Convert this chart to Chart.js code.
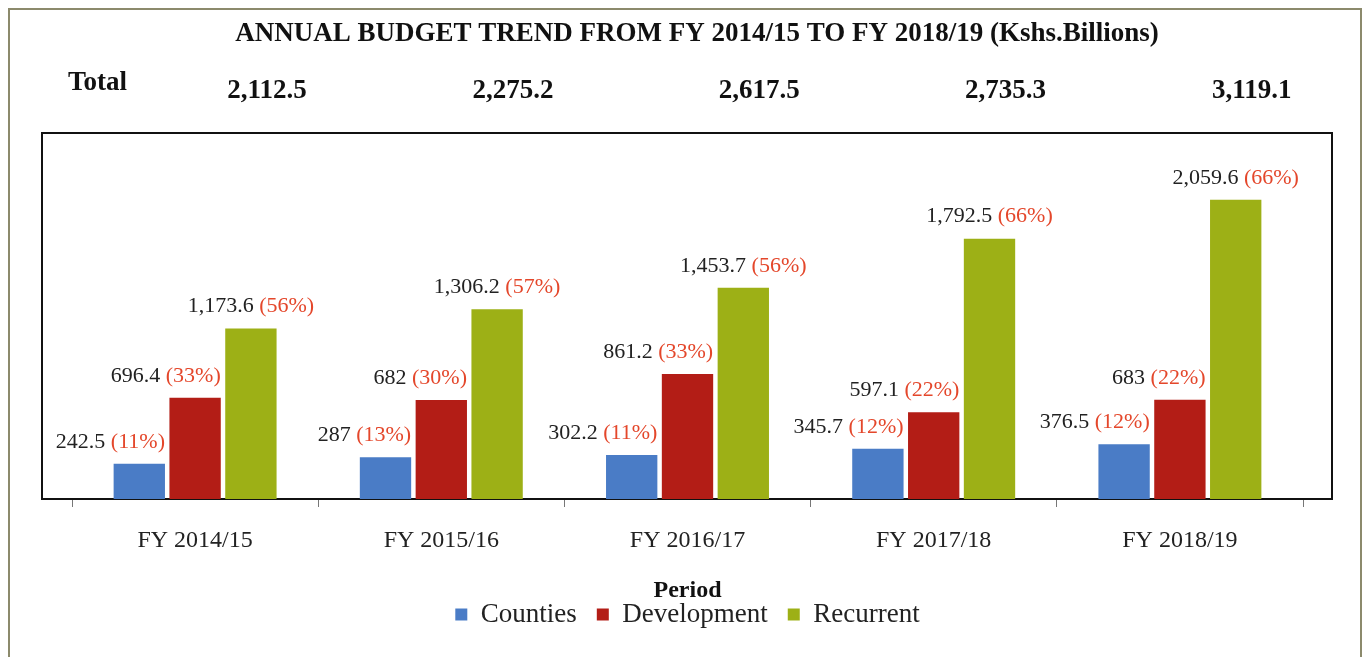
<!DOCTYPE html>
<html>
<head>
<meta charset="utf-8">
<script src="https://cdn.jsdelivr.net/npm/chart.js@4/dist/chart.umd.min.js"></script>
<style>
  html, body { margin: 0; padding: 0; background: #fff; }
  #wrap { width: 1368px; height: 657px; }
</style>
</head>
<body>
<div id="wrap"><canvas id="myChart" width="1368" height="657"></canvas></div>
<script>
const periods = ['FY 2014/15', 'FY 2015/16', 'FY 2016/17', 'FY 2017/18', 'FY 2018/19'];
const counties = [242.5, 287, 302.2, 345.7, 376.5];
const development = [696.4, 682, 861.2, 597.1, 683];
const recurrent = [1173.6, 1306.2, 1453.7, 1792.5, 2059.6];
const countiesPct = [11, 13, 11, 12, 12];
const developmentPct = [33, 30, 33, 22, 22];
const recurrentPct = [56, 57, 56, 66, 66];
const totals = ['2,112.5', '2,275.2', '2,617.5', '2,735.3', '3,119.1'];

const SERIF = '"Liberation Serif", "DejaVu Serif", serif';

// frame, title, totals and bar labels
const decor = {
    id: 'decor',
    beforeDatasetsDraw(chart) {
        const c = chart.ctx, a = chart.chartArea;
        c.save();
        // outer page border
        c.strokeStyle = '#8c8a6c';
        c.lineWidth = 2;
        c.strokeRect(9, 9, 1352, 660);
        // plot frame
        c.strokeStyle = '#111';
        c.lineWidth = 2;
        c.strokeRect(a.left - 30, a.top, a.right - a.left + 59, a.bottom - a.top);
        c.restore();
    },
    afterDatasetsDraw(chart) {
        const c = chart.ctx;
        c.save();
        c.fillStyle = '#111';
        c.font = 'bold 27px ' + SERIF;
        c.textAlign = 'center';
        c.textBaseline = 'middle';
        c.fillText('ANNUAL BUDGET TREND FROM FY 2014/15 TO FY 2018/19 (Kshs.Billions)', 697, 34);
        c.textAlign = 'left';
        c.fillText('Total', 68, 83);
        c.textAlign = 'center';
        const greens = chart.getDatasetMeta(2).data;
        totals.forEach((t, i) => c.fillText(t, greens[i].x + 16, 91));

        const pcts = [countiesPct, developmentPct, recurrentPct];
        c.font = '22px ' + SERIF;
        c.textAlign = 'left';
        chart.data.datasets.forEach((ds, di) => {
            chart.getDatasetMeta(di).data.forEach((bar, i) => {
                const num = ds.data[i].toLocaleString('en-US') + ' ';
                const pct = '(' + pcts[di][i] + '%)';
                const w1 = c.measureText(num).width, w2 = c.measureText(pct).width;
                const half = bar.width / 2;
                let x0 = di === 2 ? bar.x - (w1 + w2) / 2 : bar.x + half - (w1 + w2);
                const y = bar.y - 22;
                c.fillStyle = '#222';
                c.fillText(num, x0, y);
                c.fillStyle = '#e4472b';
                c.fillText(pct, x0 + w1, y);
            });
        });
        c.restore();
    }
};

const ctx = document.getElementById('myChart').getContext('2d');
new Chart(ctx, {
    type: 'bar',
    data: {
        labels: periods,
        datasets: [
            { label: 'Counties', data: counties, backgroundColor: '#4a7cc6' },
            { label: 'Development', data: development, backgroundColor: '#b31d16' },
            { label: 'Recurrent', data: recurrent, backgroundColor: '#9db016' }
        ]
    },
    options: {
        responsive: false,
        animation: false,
        categoryPercentage: 0.68,
        barPercentage: 0.92,
        layout: { padding: { top: 133, left: 72, right: 65, bottom: 19 } },
        plugins: {
            tooltip: { enabled: false },
            legend: {
                position: 'bottom',
                title: {
                    display: true,
                    text: 'Period',
                    color: '#111',
                    font: { family: SERIF, size: 24, weight: 'bold', lineHeight: 1 },
                    padding: { top: 24, bottom: -22 }
                },
                labels: {
                    color: '#222',
                    boxWidth: 12,
                    boxHeight: 12,
                    padding: 20,
                    font: { family: SERIF, size: 27 }
                }
            }
        },
        scales: {
            x: {
                afterFit(scale) { scale.height = 56; },
                grid: { drawOnChartArea: false, tickLength: 8, color: '#777' },
                border: { color: '#111', width: 2 },
                ticks: { color: '#222', padding: 19, font: { family: SERIF, size: 24 } }
            },
            y: {
                display: false,
                min: 0,
                max: 2520
            }
        }
    },
    plugins: [decor]
});
</script>
</body>
</html>
